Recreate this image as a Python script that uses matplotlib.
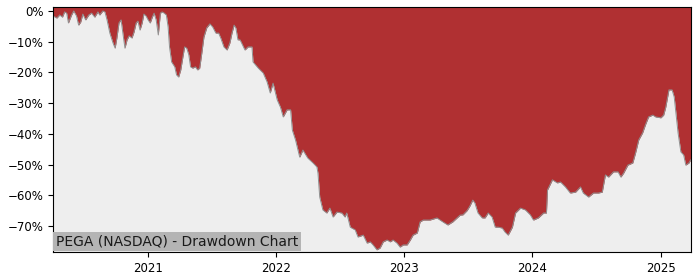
import matplotlib
matplotlib.use("Agg")
import matplotlib.pyplot as plt
import matplotlib.dates as mdates
from matplotlib.ticker import FuncFormatter
import pandas as pd

title_text = "PEGA (NASDAQ) - Drawdown Chart"

dates = [
    "2020-04-06", "2020-04-17", "2020-04-25", "2020-05-03", "2020-05-09", "2020-05-15",
    "2020-05-20", "2020-05-29", "2020-06-04", "2020-06-12", "2020-06-18", "2020-06-24",
    "2020-06-30", "2020-07-08", "2020-07-17", "2020-07-25", "2020-08-03", "2020-08-12",
    "2020-08-17", "2020-08-26", "2020-09-01", "2020-09-07", "2020-09-15", "2020-09-24",
    "2020-09-30", "2020-10-05", "2020-10-11", "2020-10-17", "2020-10-22", "2020-10-28",
    "2020-11-03", "2020-11-09", "2020-11-17", "2020-11-23", "2020-11-29", "2020-12-04",
    "2020-12-10", "2020-12-16", "2020-12-21", "2020-12-27",
    "2021-01-02", "2021-01-08", "2021-01-14", "2021-01-19", "2021-01-25", "2021-01-31",
    "2021-02-06", "2021-02-11", "2021-02-17", "2021-02-23", "2021-02-28", "2021-03-04",
    "2021-03-10", "2021-03-19", "2021-03-24", "2021-03-30", "2021-04-05", "2021-04-11",
    "2021-04-16", "2021-04-22", "2021-04-28", "2021-05-03", "2021-05-09", "2021-05-17",
    "2021-05-23", "2021-05-29", "2021-06-04", "2021-06-10", "2021-06-18", "2021-06-27",
    "2021-07-05", "2021-07-14", "2021-07-22", "2021-07-28", "2021-08-06", "2021-08-15",
    "2021-08-23", "2021-08-29", "2021-09-04", "2021-09-09", "2021-09-15", "2021-09-21",
    "2021-10-05", "2021-10-14", "2021-10-25", "2021-10-28", "2021-11-12", "2021-11-26",
    "2021-12-07", "2021-12-16", "2021-12-24",
    "2022-01-05", "2022-01-14", "2022-01-22", "2022-02-02", "2022-02-12", "2022-02-17",
    "2022-02-26", "2022-03-10", "2022-03-19", "2022-04-02", "2022-04-17", "2022-04-28",
    "2022-05-01", "2022-05-06", "2022-05-15", "2022-05-26", "2022-06-04", "2022-06-13",
    "2022-06-24", "2022-07-08", "2022-07-17", "2022-07-22", "2022-08-01", "2022-08-15",
    "2022-08-23", "2022-09-07", "2022-09-18", "2022-09-27", "2022-10-05", "2022-10-16",
    "2022-10-25", "2022-11-03", "2022-11-14", "2022-11-23", "2022-12-01", "2022-12-12",
    "2022-12-21", "2022-12-30",
    "2023-01-10", "2023-01-19", "2023-01-27", "2023-02-08", "2023-02-16", "2023-02-25",
    "2023-03-16", "2023-04-05", "2023-04-22", "2023-05-06", "2023-05-20", "2023-06-10",
    "2023-06-18", "2023-06-30", "2023-07-08", "2023-07-16", "2023-07-22", "2023-07-31",
    "2023-08-12", "2023-08-20", "2023-08-29", "2023-09-09", "2023-09-18", "2023-09-26",
    "2023-10-08", "2023-10-16", "2023-10-25", "2023-11-06", "2023-11-15", "2023-11-29",
    "2023-12-13", "2023-12-27",
    "2024-01-05", "2024-01-19", "2024-02-03", "2024-02-11", "2024-02-14", "2024-02-28",
    "2024-03-13", "2024-03-22", "2024-04-05", "2024-04-19", "2024-05-04", "2024-05-18",
    "2024-05-26", "2024-06-10", "2024-06-24", "2024-07-08", "2024-07-19", "2024-07-28",
    "2024-08-06", "2024-08-20", "2024-09-02", "2024-09-10", "2024-09-18", "2024-09-30",
    "2024-10-14", "2024-10-22", "2024-10-31", "2024-11-11", "2024-11-19", "2024-11-28",
    "2024-12-10", "2024-12-18",
    "2025-01-02", "2025-01-10", "2025-01-16", "2025-01-25", "2025-02-03", "2025-02-09",
    "2025-02-14", "2025-02-20", "2025-02-28", "2025-03-08", "2025-03-14", "2025-03-23",
    "2025-03-28",
]

drawdown_pct = [
    -1.6, -2.3, -1.3, -2.0, -0.3, -0.7,
    -3.9, -1.3, 0.0, -1.6, -4.6, -3.6,
    -1.0, -2.9, -1.3, -0.7, -2.0, -0.3,
    -1.3, 0.0, -0.3, -2.9, -7.2, -10.4,
    -12.1, -8.8, -3.9, -2.9, -7.2, -12.1,
    -9.4, -8.1, -8.8, -6.8, -3.9, -3.3,
    -6.2, -3.9, -1.0, -1.6,
    -2.9, -3.9, -2.0, -0.7, -2.9, -7.8,
    -0.7, -0.3, -0.7, -1.3, -5.2, -11.7,
    -16.6, -18.2, -20.8, -21.5, -19.2, -15.0,
    -11.7, -12.1, -14.3, -18.2, -18.6, -18.2,
    -19.2, -18.6, -13.7, -8.5, -5.5, -4.2,
    -5.2, -7.2, -7.2, -8.8, -11.7, -12.7,
    -10.4, -7.2, -4.6, -5.5, -9.4, -9.4,
    -12.7, -11.7, -11.7, -16.6, -18.6, -20.2,
    -23.1, -26.7, -23.5,
    -29.0, -31.3, -34.5, -32.2, -32.2, -38.8,
    -42.0, -47.6, -45.3, -47.9, -49.5, -50.8,
    -52.8, -60.6, -64.8, -65.8, -64.2, -67.1,
    -65.5, -65.8, -67.1, -65.8, -70.4, -71.3,
    -73.6, -73.0, -75.6, -75.2, -76.2, -77.8,
    -77.2, -75.2, -74.6, -75.2, -74.6, -75.6,
    -76.9, -76.2,
    -76.2, -74.6, -73.0, -72.3, -68.7, -68.1,
    -68.1, -67.4, -68.7, -69.7, -68.7, -66.5,
    -66.4, -65.0, -63.5, -61.6, -62.5, -65.8,
    -67.4, -67.4, -65.8, -67.1, -70.4, -70.4,
    -70.7, -72.0, -73.0, -70.4, -65.8, -64.2,
    -64.8, -66.4,
    -68.1, -67.4, -65.8, -65.8, -58.3, -55.0,
    -56.0, -55.7, -57.3, -59.3, -59.0, -57.3,
    -59.3, -60.6, -59.3, -59.3, -59.0, -53.4,
    -54.1, -52.4, -52.4, -54.1, -52.8, -50.2,
    -49.5, -46.2, -42.0, -39.7, -37.1, -34.5,
    -33.9, -34.5,
    -34.8, -33.9, -31.3, -25.7, -25.7, -28.0,
    -33.2, -39.7, -45.9, -46.9, -50.2, -49.5,
    -48.5,
]

y_ticks = [0, -10, -20, -30, -40, -50, -60, -70]

x = pd.to_datetime(dates)
y_top, y_bottom = 1.3, -78.5

fig = plt.figure(figsize=(7, 2.8), dpi=100)
ax = fig.add_axes([0.0757, 0.1, 0.911, 0.875])
ax.set_facecolor("#eeeeee")
ax.fill_between(x, drawdown_pct, y_top, color="#b03032", linewidth=0)
ax.plot(x, drawdown_pct, color="#909090", linewidth=0.7)

ax.set_xlim(x[0], x[-1])
ax.set_ylim(y_bottom, y_top)
ax.set_yticks(y_ticks)
ax.yaxis.set_major_formatter(FuncFormatter(lambda v, p: f"{v:.0f}%".replace("-", "\u2212")))
ax.xaxis.set_major_locator(mdates.YearLocator())
ax.xaxis.set_major_formatter(mdates.DateFormatter("%Y"))
ax.tick_params(labelsize=8.5, length=3.5)

ax.annotate(title_text, xy=(0, 0), xycoords="axes fraction",
            xytext=(2.2, 2.6), textcoords="offset points",
            ha="left", va="bottom", fontsize=10, color="#1a1a1a",
            bbox=dict(boxstyle="square,pad=0.2", facecolor="#b4b4b4", edgecolor="none"))

fig.savefig("out.png", dpi=100)
